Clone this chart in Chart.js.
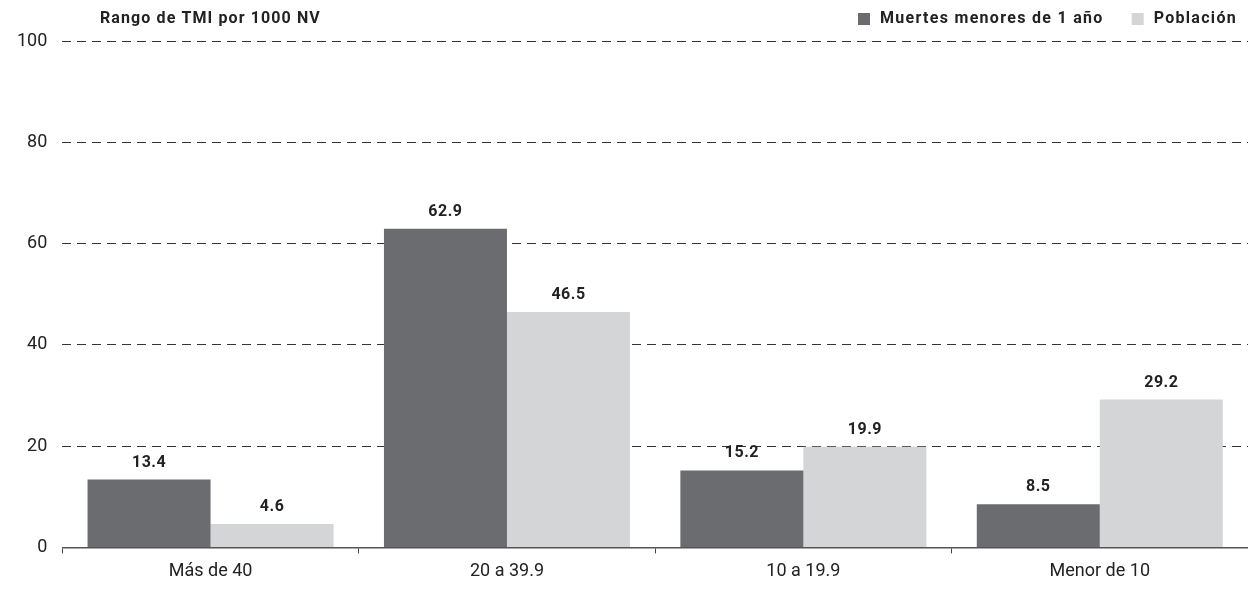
<!DOCTYPE html>
<html>
<head>
<meta charset="utf-8">
<script src="https://cdn.jsdelivr.net/npm/chart.js@4"></script>
<style>
  html, body { margin: 0; padding: 0; background: #fff; }
  #wrap { width: 1248px; height: 592px; position: relative; }
</style>
</head>
<body>
<div id="wrap"><canvas id="chart"></canvas></div>
<script>
// ── Data ──────────────────────────────────────────────────────────────────────
const categories = ['Más de 40', '20 a 39.9', '10 a 19.9', 'Menor de 10'];
const muertes    = [13.4, 62.9, 15.2, 8.5];
const poblacion  = [4.6, 46.5, 19.9, 29.2];
const seriesNames = ['Muertes menores de 1 año', 'Población'];
const yTicks     = [0, 20, 40, 60, 80, 100];
const chartTitle = 'Rango de TMI por 1000 NV';

const DARK  = '#6b6c70';
const LIGHT = '#d4d5d7';
const FONT  = 'Roboto, "DejaVu Sans", sans-serif';

// ── Title + legend drawn in the top strip ─────────────────────────────────────
const headerPlugin = {
  id: 'header',
  afterDraw(chart) {
    const ctx = chart.ctx;
    ctx.save();
    ctx.font = `bold 16px ${FONT}`;
    ctx.letterSpacing = '1.1px';
    ctx.fillStyle = '#222';
    ctx.textBaseline = 'middle';
    ctx.textAlign = 'left';
    ctx.fillText(chartTitle, 100, 19);

    // legend, right aligned
    const items = [
      { text: seriesNames[0], color: DARK },
      { text: seriesNames[1], color: LIGHT }
    ];
    ctx.letterSpacing = '1.3px';
    let x = 1237;
    for (let i = items.length - 1; i >= 0; i--) {
      const w = ctx.measureText(items[i].text).width;
      ctx.fillStyle = '#222';
      ctx.textAlign = 'right';
      ctx.fillText(items[i].text, x, 19);
      const bx = x - w - 10 - 12;
      ctx.fillStyle = items[i].color;
      ctx.fillRect(bx, 13, 12, 12);
      x = bx - 28;
    }
    ctx.restore();
  }
};

// ── Value labels above bars ───────────────────────────────────────────────────
const valueLabels = {
  id: 'valueLabels',
  afterDatasetsDraw(chart) {
    const ctx = chart.ctx;
    ctx.save();
    ctx.font = `bold 16px ${FONT}`;
    ctx.letterSpacing = '0.5px';
    ctx.fillStyle = '#222';
    ctx.textAlign = 'center';
    ctx.textBaseline = 'bottom';
    chart.data.datasets.forEach((ds, di) => {
      chart.getDatasetMeta(di).data.forEach((bar, i) => {
        ctx.fillText(ds.data[i].toFixed(1), bar.x, bar.y - 9);
      });
    });
    ctx.restore();
  }
};

new Chart(document.getElementById('chart'), {
  type: 'bar',
  data: {
    labels: categories,
    datasets: [
      { label: seriesNames[0], data: muertes,   backgroundColor: DARK,  categoryPercentage: 0.83, barPercentage: 1.0 },
      { label: seriesNames[1], data: poblacion, backgroundColor: LIGHT, categoryPercentage: 0.83, barPercentage: 1.0 }
    ]
  },
  options: {
    animation: false,
    responsive: true,
    maintainAspectRatio: false,
    layout: { padding: { top: 41, right: 0, left: 7, bottom: 3 } },
    plugins: {
      legend: { display: false },
      tooltip: { enabled: false }
    },
    scales: {
      x: {
        grid: {
          display: true,
          drawOnChartArea: false,
          drawTicks: true,
          tickLength: 6,
          color: '#444',
          offset: true
        },
        border: { display: true, color: '#555', width: 1.5 },
        ticks: { color: '#222', font: { family: FONT, size: 18 }, padding: 7 }
      },
      y: {
        min: 0,
        max: 100,
        afterBuildTicks(axis) { axis.ticks = yTicks.map(v => ({ value: v })); },
        grid: {
          color: ctx => ctx.tick && ctx.tick.value === 0 ? 'rgba(0,0,0,0)' : '#333',
          lineWidth: 1,
          drawTicks: true,
          tickLength: 5,
          tickColor: 'rgba(0,0,0,0)'
        },
        border: { display: false, dash: [9, 6] },
        ticks: { color: '#222', font: { family: FONT, size: 18 }, padding: 10 }
      }
    }
  },
  plugins: [headerPlugin, valueLabels]
});
</script>
</body>
</html>
